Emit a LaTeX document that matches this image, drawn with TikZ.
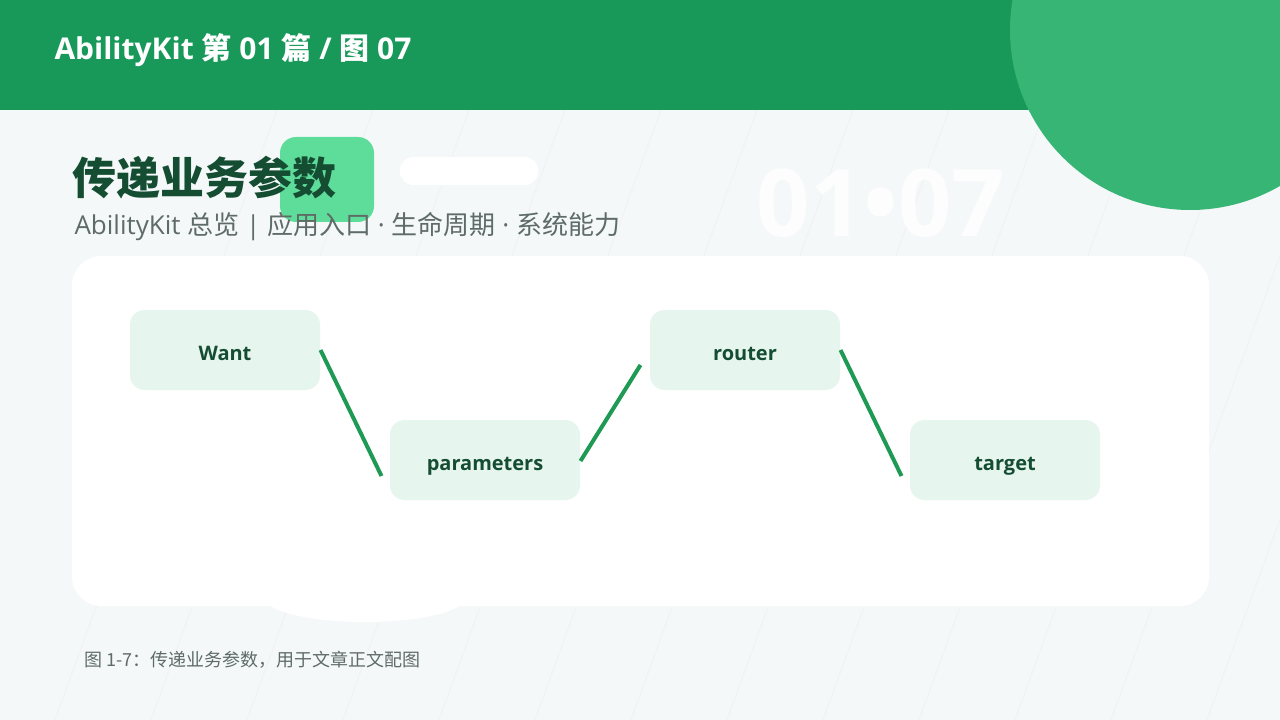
\documentclass[tikz,border=0pt]{standalone}
\usepackage{fontspec}
\setmainfont{Open Sans}
\newfontfamily\cjk{Noto Sans CJK SC}
\usetikzlibrary{calc}
\definecolor{bgpage}{HTML}{F4F8F9}
\definecolor{headgreen}{HTML}{18995A}
\definecolor{circgreen}{HTML}{36B574}
\definecolor{mintsq}{HTML}{5EDC9A}
\definecolor{darkgreen}{HTML}{154D33}
\definecolor{subgray}{HTML}{5F6B66}
\definecolor{nodefill}{HTML}{E6F6EE}
\definecolor{linkgreen}{HTML}{1E9A55}
\tikzset{every picture/.style={line width=0.75pt}}
\tikzset{
  stepnode/.style={fill=nodefill, rounded corners=11pt, minimum width=142.5pt, minimum height=60pt, inner sep=0pt, text height=16pt, text depth=0pt, text=darkgreen, font=\fontsize{15}{18}\selectfont\bfseries},
  link/.style={draw=linkgreen, line width=3pt}
}
\begin{document}
\begin{tikzpicture}[x=0.75pt,y=0.75pt,yscale=-1,xscale=1]
	\useasboundingbox (0,0) rectangle (1280,720);
	% background and stripes
	\fill [bgpage] (0,0) rectangle (1280,720);
	\begin{scope}
	\clip (0,0) rectangle (1280,720);
	\foreach \k in {-2,...,13}
		\draw [black!5, line width=0.75pt] ({247+96*\k},720) -- ({247+96*\k+262},0);
	\end{scope}
	% header
	\fill [headgreen] (0,0) rectangle (1280,110);
	\fill [circgreen] (1190,30) circle (180);
	\draw (54,50) node [anchor=west, inner sep=0pt, text=white, font=\fontsize{22.5}{26}\selectfont\bfseries] {AbilityKit {\cjk 第} 01 {\cjk 篇} / {\cjk 图} 07};
	% decorations
	\fill [mintsq, rounded corners=12pt] (280,137) rectangle (374,222);
	\fill [white, rounded corners=10pt] (400,157) rectangle (538,185);
	\draw (881,203) node [text=white, opacity=0.85, font=\fontsize{70}{80}\selectfont\bfseries] {01•07};
	% title
	\draw (72,178) node [anchor=west, inner sep=0pt, text=darkgreen, font=\cjk\fontsize{33}{40}\selectfont\bfseries] {传递业务参数};
	\draw (74,227) node [anchor=west, inner sep=0pt, text=subgray, font=\fontsize{19.5}{22}\selectfont] {AbilityKit {\cjk 总览} | {\cjk 应用入口} · {\cjk 生命周期} · {\cjk 系统能力}};
	% card
	\fill [white] (365,598) ellipse (100 and 24);
	\fill [white, rounded corners=22pt] (72,256) rectangle (1209,606);
	% nodes
	\node [stepnode] (want) at (225,350) {Want};
	\node [stepnode] (params) at (485,460) {parameters};
	\node [stepnode] (router) at (745,350) {router};
	\node [stepnode] (target) at (1005,460) {target};
	% links
	\draw [link] (want.east) -- ([shift={(-8,16)}]params.west);
	\draw [link] ([shift={(0,1)}]params.east) -- ([shift={(-9,15)}]router.west);
	\draw [link] (router.east) -- ([shift={(-8,16)}]target.west);
	% caption
	\draw (84,660) node [anchor=west, inner sep=0pt, text=subgray, font=\cjk\fontsize{13.5}{16}\selectfont] {图 1-7：传递业务参数，用于文章正文配图};
\end{tikzpicture}
\end{document}
